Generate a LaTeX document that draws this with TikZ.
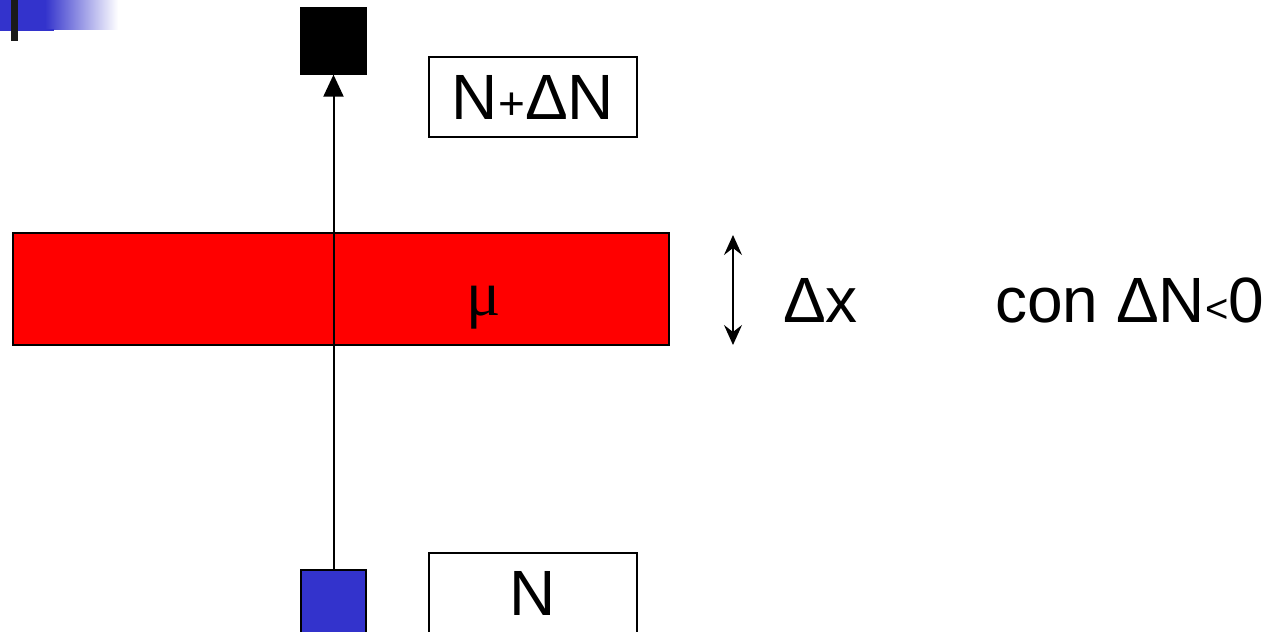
\documentclass[tikz,border=0pt]{standalone}
\usepackage{fontspec}
\setmainfont{Liberation Sans}
\newfontfamily\greekserif{Liberation Serif}
\usetikzlibrary{arrows.meta}
\definecolor{slideblue}{HTML}{3333CC}
\definecolor{slabred}{HTML}{FF0000}
\definecolor{barmark}{HTML}{1A1A1A}
\newcommand{\bigsize}{\fontsize{64}{66}\selectfont}
\newcommand{\smallsign}[2]{{\fontsize{#1}{#1}\selectfont #2}}
\begin{document}
\begin{tikzpicture}[x=1pt,y=-1pt,
  big/.style={font=\bigsize, inner sep=0pt},
  detector/.style={draw=black, line width=1.3pt, minimum width=65pt, minimum height=66pt, inner sep=0pt},
  countbox/.style={draw=black, line width=1.4pt, fill=white, minimum width=208pt, minimum height=80pt, inner sep=0pt, font=\bigsize},
  beam/.style={line width=2pt, -{Triangle[length=22pt,width=20pt]}},
  gauge/.style={line width=1.6pt, {Stealth[length=20pt,width=18pt,inset=7pt]}-{Stealth[length=20pt,width=18pt,inset=7pt]}}]
\useasboundingbox (0,0) rectangle (1270,632);
\clip (0,0) rectangle (1270,632);
% slide decoration, top left
\fill[slideblue] (0,0) rectangle (46,29);
\shade[left color=slideblue, right color=white] (45,0) rectangle (118,29);
\fill[slideblue] (0,29) rectangle (54,31);
\fill[barmark] (11,0) rectangle (18,41);
% absorbing slab
\node[draw=black, line width=1.6pt, fill=slabred, minimum width=656pt, minimum height=112pt, inner sep=0pt] (slab) at (341,289) {};
\node[font=\bigsize\greekserif, inner sep=0pt, anchor=base] (mu) at (484,315) {μ};
% source and detector
\node[detector, fill=black] (det) at (333.5,41) {};
\node[detector, fill=slideblue] (src) at (333.5,603) {};
\draw[beam] (src) -- (det);
% counts
\node[countbox] (out) at (533,97) {N\smallsign{46}{+}ΔN};
\node[countbox] (in) at (533,593) {N};
% thickness
\coordinate (dxtop) at (733,235);
\coordinate (dxbot) at (733,345);
\draw[gauge] (dxtop) -- (dxbot);
\node[big, anchor=base west] (dx) at (783,322) {Δx};
\node[big, anchor=base west] (cond) at (995,322) {con ΔN\smallsign{40}{<}0};
\end{tikzpicture}
\end{document}
